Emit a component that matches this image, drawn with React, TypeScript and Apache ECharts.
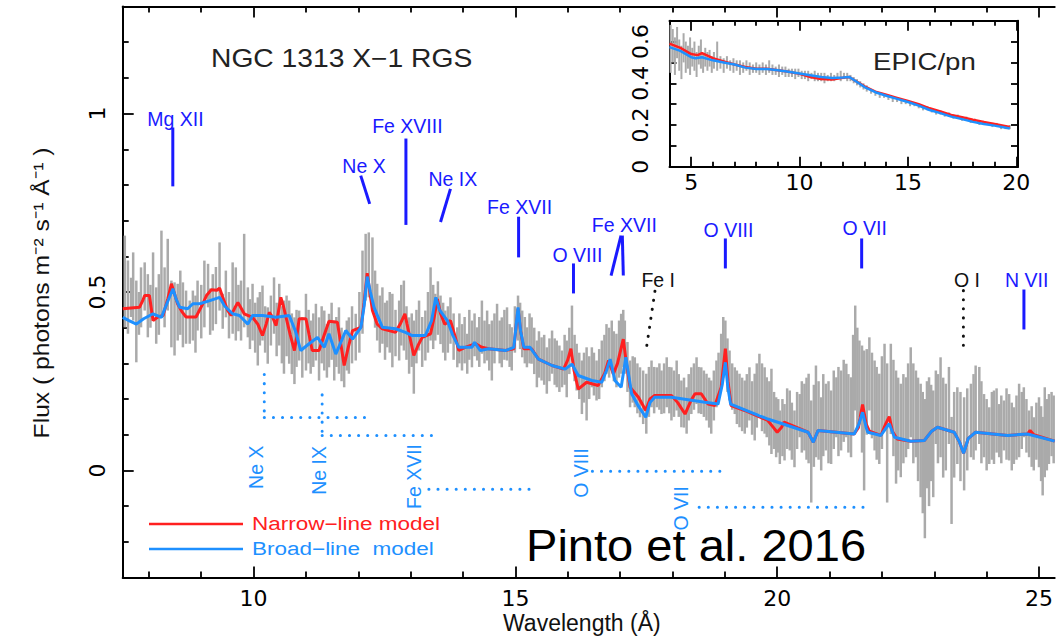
import React, { useEffect, useRef } from "react";
import * as echarts from "echarts";

// ---------- axis ticks ----------
const xMajor = [10, 15, 20, 25];
const xMinor = [8, 9, 11, 12, 13, 14, 16, 17, 18, 19, 21, 22, 23, 24];
const yMajor = [0, 0.5, 1];
const yMinor = [-0.2, -0.1, 0.1, 0.2, 0.3, 0.4, 0.6, 0.7, 0.8, 0.9, 1.1, 1.2];
const insetXMajor = [5, 10, 15, 20];
const insetXMinor = [6, 7, 8, 9, 11, 12, 13, 14, 16, 17, 18, 19];
const insetYLabels = [0, 0.2, 0.4, 0.6];
const insetYTicks = [0.1, 0.2, 0.3, 0.4, 0.5, 0.6];

// ---------- RGS spectrum: [wavelength, low, high] ----------
const rgsData = [
  [7.54,0.401,0.658],[7.6,0.383,0.588],[7.66,0.43,0.54],[7.7,0.42,0.611],[7.76,0.303,0.532],[7.81,0.38,0.5],[7.85,0.401,0.569],[7.92,0.448,0.583],[7.98,0.373,0.55],[8.03,0.4,0.52],[8.08,0.42,0.611],[8.14,0.355,0.513],[8.19,0.38,0.55],[8.24,0.429,0.672],[8.3,0.401,0.569],[8.36,0.448,0.649],[8.43,0.345,0.532],[8.49,0.322,0.527],[8.55,0.364,0.523],[8.6,0.38,0.56],[8.65,0.345,0.527],[8.71,0.355,0.504],[8.78,0.355,0.476],[8.84,0.364,0.504],[8.89,0.33,0.49],[8.93,0.392,0.532],[9.0,0.37,0.52],[9.06,0.401,0.588],[9.13,0.457,0.579],[9.17,0.38,0.51],[9.22,0.392,0.55],[9.28,0.41,0.57],[9.35,0.448,0.639],[9.41,0.397,0.495],[9.47,0.429,0.56],[9.53,0.37,0.5],[9.6,0.383,0.583],[9.66,0.364,0.569],[9.71,0.39,0.52],[9.76,0.364,0.532],[9.82,0.401,0.663],[9.89,0.373,0.513],[9.93,0.34,0.48],[9.98,0.364,0.523],
  [10.03,0.33,0.47],[10.08,0.294,0.485],[10.12,0.35,0.5],[10.17,0.364,0.518],[10.22,0.33,0.46],[10.27,0.299,0.457],[10.33,0.35,0.49],[10.39,0.383,0.541],[10.44,0.32,0.47],[10.49,0.35,0.523],[10.54,0.3,0.46],[10.58,0.271,0.476],[10.63,0.32,0.49],[10.68,0.299,0.476],[10.73,0.27,0.44],[10.78,0.242,0.429],[10.82,0.29,0.45],[10.87,0.308,0.448],[10.93,0.26,0.43],[11.0,0.28,0.495],[11.05,0.3,0.45],[11.09,0.271,0.42],[11.14,0.29,0.44],[11.19,0.308,0.467],[11.25,0.252,0.429],[11.3,0.3,0.46],[11.35,0.28,0.448],[11.4,0.26,0.41],[11.44,0.289,0.439],[11.49,0.31,0.47],[11.54,0.252,0.42],[11.58,0.29,0.43],[11.63,0.271,0.457],[11.68,0.25,0.4],[11.73,0.233,0.383],[11.78,0.28,0.42],[11.82,0.271,0.429],[11.88,0.3,0.46],[11.95,0.308,0.439],
  [12.02,0.33,0.5],[12.08,0.383,0.616],[12.14,0.476,0.663],[12.2,0.485,0.667],[12.27,0.457,0.653],[12.32,0.4,0.56],[12.36,0.364,0.523],[12.41,0.33,0.49],[12.46,0.355,0.513],[12.51,0.31,0.47],[12.55,0.345,0.476],[12.6,0.33,0.5],[12.65,0.289,0.495],[12.71,0.32,0.45],[12.78,0.308,0.476],[12.82,0.35,0.52],[12.87,0.336,0.532],[12.92,0.31,0.46],[12.97,0.271,0.429],[13.02,0.29,0.44],[13.06,0.215,0.42],[13.11,0.3,0.45],[13.16,0.336,0.476],[13.22,0.29,0.43],[13.28,0.308,0.448],[13.33,0.33,0.5],[13.38,0.364,0.569],[13.43,0.34,0.52],[13.47,0.364,0.495],[13.52,0.38,0.53],[13.57,0.354,0.49],[13.62,0.33,0.47],[13.66,0.308,0.448],[13.71,0.33,0.46],[13.76,0.355,0.485],[13.82,0.31,0.44],[13.89,0.289,0.401],[13.93,0.3,0.44],[13.98,0.28,0.41],
  [14.03,0.3,0.43],[14.08,0.271,0.383],[14.12,0.31,0.45],[14.17,0.289,0.42],[14.22,0.32,0.44],[14.27,0.308,0.401],[14.31,0.29,0.43],[14.36,0.327,0.476],[14.41,0.3,0.42],[14.46,0.308,0.448],[14.5,0.28,0.41],[14.55,0.252,0.42],[14.6,0.3,0.44],[14.65,0.336,0.467],[14.7,0.3,0.42],[14.74,0.289,0.429],[14.79,0.31,0.45],[14.84,0.308,0.457],[14.89,0.29,0.41],[14.93,0.28,0.401],[14.99,0.33,0.46],[15.05,0.364,0.49],[15.09,0.34,0.47],[15.13,0.317,0.448],[15.18,0.3,0.43],[15.22,0.289,0.401],[15.27,0.3,0.44],[15.31,0.299,0.429],[15.36,0.27,0.4],[15.41,0.233,0.364],[15.45,0.26,0.39],[15.5,0.252,0.373],[15.55,0.24,0.38],[15.6,0.215,0.345],[15.65,0.25,0.37],[15.7,0.271,0.392],[15.75,0.24,0.37],[15.79,0.233,0.364],[15.84,0.22,0.35],[15.89,0.233,0.336],[15.94,0.24,0.38],[15.98,0.205,0.364],
  [16.03,0.27,0.4],[16.08,0.327,0.462],[16.13,0.25,0.38],[16.17,0.224,0.355],[16.22,0.2,0.33],[16.27,0.158,0.308],[16.31,0.19,0.33],[16.36,0.14,0.345],[16.41,0.2,0.32],[16.46,0.233,0.345],[16.5,0.21,0.33],[16.55,0.196,0.308],[16.6,0.2,0.34],[16.65,0.233,0.364],[16.7,0.25,0.38],[16.74,0.271,0.41],[16.79,0.26,0.4],[16.84,0.289,0.42],[16.88,0.25,0.39],[16.93,0.233,0.383],[16.98,0.26,0.42],[17.02,0.271,0.439],[17.06,0.29,0.45],[17.09,0.271,0.42],[17.14,0.22,0.36],[17.19,0.177,0.308],[17.24,0.19,0.32],[17.28,0.177,0.317],[17.33,0.16,0.3],[17.38,0.149,0.289],[17.44,0.13,0.28],[17.5,0.103,0.271],[17.55,0.15,0.29],[17.6,0.177,0.308],[17.65,0.16,0.29],[17.7,0.177,0.289],[17.75,0.17,0.3],[17.79,0.158,0.28],[17.84,0.16,0.3],[17.89,0.177,0.317],[17.94,0.16,0.29],[17.98,0.14,0.289],
  [18.03,0.15,0.28],[18.08,0.168,0.308],[18.12,0.15,0.27],[18.17,0.121,0.252],[18.22,0.12,0.26],[18.27,0.103,0.233],[18.31,0.14,0.27],[18.36,0.158,0.289],[18.41,0.17,0.3],[18.46,0.186,0.317],[18.5,0.16,0.29],[18.55,0.158,0.289],[18.6,0.15,0.28],[18.65,0.14,0.271],[18.7,0.12,0.26],[18.74,0.103,0.252],[18.79,0.14,0.28],[18.84,0.177,0.308],[18.88,0.2,0.33],[18.93,0.233,0.383],[18.97,0.26,0.43],[19.01,0.271,0.42],[19.05,0.22,0.37],[19.09,0.196,0.336],[19.14,0.17,0.3],[19.19,0.158,0.289],[19.23,0.13,0.28],[19.28,0.121,0.271],[19.33,0.11,0.26],[19.38,0.103,0.252],[19.42,0.12,0.27],[19.47,0.14,0.289],[19.52,0.1,0.25],[19.57,0.084,0.271],[19.61,0.12,0.3],[19.66,0.158,0.327],[19.71,0.11,0.3],[19.76,0.103,0.289],[19.8,0.093,0.261],[19.85,0.07,0.25],[19.89,0.046,0.285],[19.94,0.06,0.22],[19.98,0.037,0.205],
  [20.02,0.05,0.2],[20.05,0.018,0.168],[20.1,0.04,0.2],[20.14,0.028,0.186],[20.19,0.06,0.23],[20.24,0.056,0.224],[20.28,0.03,0.19],[20.33,0.009,0.168],[20.38,0.06,0.22],[20.43,0.093,0.214],[20.47,0.05,0.25],[20.52,0.056,0.243],[20.56,0.03,0.26],[20.6,0.02,0.271],[20.65,-0.09,0.196],[20.7,0.01,0.24],[20.74,0.037,0.294],[20.79,0.03,0.25],[20.84,0.0,0.205],[20.88,0.04,0.27],[20.93,0.056,0.243],[20.98,0.02,0.25],
  [21.03,0.018,0.224],[21.08,0.06,0.28],[21.13,0.093,0.261],[21.17,0.04,0.29],[21.22,0.056,0.28],[21.27,0.08,0.31],[21.32,0.093,0.299],[21.36,0.05,0.27],[21.41,0.037,0.261],[21.45,0.1,0.38],[21.49,0.168,0.462],[21.53,0.12,0.4],[21.57,0.149,0.364],[21.62,0.05,0.35],[21.66,-0.056,0.336],[21.71,0.1,0.34],[21.76,0.168,0.373],[21.81,0.09,0.33],[21.86,0.056,0.308],[21.9,0.03,0.29],[21.95,0.018,0.271],
  [22.0,0.06,0.32],[22.05,0.121,0.355],[22.1,-0.09,0.3],[22.17,0.102,0.355],[22.22,0.04,0.31],[22.27,-0.037,0.28],[22.31,0.0,0.26],[22.36,-0.019,0.243],[22.41,0.02,0.27],[22.46,0.037,0.261],[22.5,0.06,0.3],[22.55,0.093,0.345],[22.6,0.02,0.3],[22.65,0.037,0.28],[22.69,-0.03,0.26],[22.74,-0.075,0.243],[22.78,-0.12,0.22],[22.82,-0.19,0.2],[22.86,-0.05,0.25],[22.9,-0.1,0.261],[22.94,-0.03,0.24],[22.98,-0.075,0.224],
  [23.03,0.074,0.28],[23.07,0.02,0.27],[23.12,0.037,0.317],[23.17,-0.02,0.26],[23.22,0.0,0.243],[23.28,0.074,0.29],[23.33,-0.15,0.15],[23.38,-0.02,0.22],[23.44,0.018,0.233],[23.5,-0.03,0.22],[23.57,-0.056,0.205],[23.63,0.0,0.23],[23.7,0.037,0.243],[23.75,0.03,0.27],[23.79,0.056,0.294],[23.86,0.074,0.29],[23.9,0.02,0.25],[23.95,0.037,0.214],
  [24.0,0.0,0.2],[24.05,0.018,0.177],[24.1,0.03,0.22],[24.14,0.018,0.224],[24.19,0.05,0.23],[24.24,0.037,0.186],[24.28,0.02,0.21],[24.33,0.056,0.196],[24.38,0.03,0.23],[24.43,0.028,0.214],[24.48,0.0,0.19],[24.52,0.018,0.177],[24.57,0.03,0.21],[24.62,0.037,0.243],[24.67,0.06,0.22],[24.71,0.093,0.233],[24.76,0.05,0.2],[24.81,0.037,0.168],[24.86,0.01,0.18],[24.9,0.0,0.149],[24.95,0.03,0.19],
  [25.0,0.009,0.205],[25.04,-0.03,0.18],[25.07,-0.07,0.15],[25.11,-0.019,0.233],[25.15,0.0,0.2],[25.19,0.018,0.214],[25.24,0.04,0.22],[25.28,0.02,0.21],
];

// ---------- RGS models: [wavelength, flux] ----------
const narrowModel = [
  [7.5,0.453],[7.82,0.457],[7.88,0.475],[7.92,0.49],[8.01,0.49],[8.06,0.44],[8.08,0.42],[8.17,0.43],[8.27,0.434],[8.36,0.48],[8.43,0.523],[8.5,0.49],[8.55,0.466],[8.63,0.445],[8.71,0.43],[8.9,0.43],[9.03,0.467],[9.1,0.49],[9.19,0.506],[9.3,0.505],[9.35,0.511],[9.41,0.485],[9.5,0.45],[9.57,0.434],[9.64,0.455],[9.7,0.471],[9.76,0.455],[9.82,0.439],[9.98,0.429],
  [10.08,0.41],[10.17,0.378],[10.24,0.41],[10.3,0.443],[10.36,0.43],[10.43,0.406],[10.48,0.45],[10.52,0.485],[10.57,0.46],[10.62,0.429],[10.7,0.38],[10.78,0.336],[10.83,0.38],[10.87,0.425],[11.0,0.425],[11.06,0.38],[11.12,0.336],[11.25,0.336],[11.35,0.38],[11.44,0.418],[11.6,0.415],[11.66,0.36],[11.73,0.294],[11.8,0.34],[11.89,0.392],
  [12.05,0.401],[12.11,0.47],[12.17,0.553],[12.22,0.5],[12.27,0.448],[12.36,0.41],[12.46,0.397],[12.71,0.387],[12.8,0.41],[12.89,0.439],[12.93,0.41],[12.97,0.383],[13.06,0.322],[13.14,0.35],[13.22,0.373],[13.38,0.383],[13.45,0.43],[13.51,0.48],[13.57,0.44],[13.65,0.41],[13.76,0.42],[13.84,0.38],[13.92,0.336],
  [14.04,0.345],[14.24,0.355],[14.36,0.345],[14.49,0.341],[14.81,0.336],[14.97,0.341],[15.01,0.4],[15.05,0.453],[15.1,0.39],[15.16,0.341],[15.31,0.341],[15.44,0.312],[15.7,0.294],[15.92,0.284],[16.0,0.31],[16.06,0.341],[16.12,0.28],[16.2,0.228],[16.36,0.247],[16.58,0.238],[16.7,0.27],[16.78,0.308],[16.87,0.27],[16.95,0.3],[17.06,0.368],[17.12,0.3],[17.19,0.233],[17.35,0.205],[17.49,0.168],[17.57,0.2],[17.66,0.21],[17.98,0.21],
  [18.1,0.19],[18.24,0.158],[18.35,0.195],[18.43,0.215],[18.55,0.215],[18.68,0.186],[18.81,0.182],[18.93,0.233],[19.01,0.341],[19.06,0.25],[19.12,0.182],[19.38,0.168],[19.82,0.14],[19.93,0.12],[20.0,0.107],[20.08,0.12],[20.13,0.135],[20.59,0.107],[20.69,0.079],[20.78,0.112],
  [21.47,0.102],[21.55,0.12],[21.63,0.185],[21.7,0.13],[21.76,0.11],[21.98,0.098],[22.07,0.13],[22.14,0.151],[22.2,0.11],[22.29,0.088],[22.55,0.082],[22.81,0.084],[22.95,0.11],[23.06,0.121],[23.38,0.107],[23.48,0.08],[23.56,0.048],[23.65,0.09],[23.79,0.107],[24.4,0.098],[24.78,0.102],[24.83,0.112],[24.9,0.1],[25.3,0.082],
];

const broadModel = [
  [7.5,0.429],[7.62,0.42],[7.76,0.41],[7.9,0.425],[8.08,0.439],[8.24,0.429],[8.35,0.47],[8.46,0.509],[8.52,0.48],[8.59,0.457],[8.74,0.453],[8.84,0.467],[8.97,0.467],[9.15,0.475],[9.35,0.485],[9.45,0.46],[9.6,0.439],[9.73,0.434],[9.89,0.41],[9.98,0.434],
  [10.17,0.434],[10.43,0.429],[10.68,0.434],[10.8,0.39],[10.9,0.336],[11.06,0.355],[11.22,0.373],[11.35,0.345],[11.44,0.383],[11.57,0.326],[11.76,0.392],[11.89,0.368],[12.05,0.401],[12.11,0.46],[12.17,0.543],[12.23,0.5],[12.3,0.457],[12.46,0.401],[12.71,0.397],[12.9,0.387],[13.03,0.378],[13.28,0.378],[13.4,0.42],[13.48,0.485],[13.55,0.45],[13.7,0.42],[13.8,0.38],[13.92,0.345],
  [14.17,0.345],[14.22,0.359],[14.33,0.336],[14.49,0.341],[14.81,0.336],[14.97,0.345],[15.01,0.4],[15.05,0.457],[15.1,0.39],[15.16,0.345],[15.28,0.345],[15.44,0.312],[15.7,0.294],[15.95,0.284],[16.08,0.298],[16.2,0.266],[16.46,0.252],[16.65,0.247],[16.74,0.28],[16.81,0.312],[16.9,0.252],[17.02,0.233],[17.11,0.317],[17.22,0.215],[17.35,0.18],[17.49,0.149],[17.57,0.19],[17.66,0.205],[17.98,0.205],
  [18.62,0.191],[18.87,0.186],[18.95,0.24],[19.01,0.303],[19.06,0.23],[19.11,0.186],[19.82,0.144],[20.01,0.135],[20.59,0.107],[20.69,0.079],[20.78,0.112],[21.47,0.102],[21.56,0.13],[21.63,0.163],[21.7,0.12],[21.73,0.107],[21.98,0.098],[22.14,0.131],[22.24,0.093],[22.55,0.082],[22.81,0.084],[22.95,0.11],[23.06,0.121],[23.38,0.107],[23.48,0.08],[23.56,0.048],[23.65,0.09],[23.79,0.107],[24.4,0.098],[24.78,0.102],[25.3,0.082],
];

// ---------- EPIC/pn inset ----------
const epicData = [
  [4.05,0.45,0.68],[4.15,0.5,0.66],[4.25,0.44,0.62],[4.35,0.52,0.67],[4.45,0.46,0.61],[4.55,0.42,0.58],[4.65,0.5,0.64],[4.75,0.45,0.6],[4.85,0.47,0.58],[4.95,0.44,0.62],[5.05,0.48,0.57],[5.15,0.46,0.6],[5.25,0.43,0.55],[5.35,0.49,0.58],[5.45,0.47,0.61],[5.55,0.45,0.54],[5.65,0.48,0.57],[5.75,0.46,0.55],[5.85,0.48,0.56],[5.95,0.45,0.53],
  [6.05,0.47,0.55],[6.2,0.46,0.6],[6.35,0.47,0.53],[6.5,0.45,0.52],[6.65,0.47,0.53],[6.8,0.46,0.51],[6.95,0.45,0.52],[7.1,0.46,0.51],[7.25,0.44,0.51],[7.4,0.45,0.5],[7.55,0.46,0.51],[7.7,0.44,0.5],[7.85,0.45,0.49],[8.0,0.45,0.5],[8.15,0.44,0.49],[8.3,0.45,0.5],[8.45,0.44,0.49],[8.6,0.45,0.51],[8.75,0.44,0.49],[8.9,0.44,0.48],
  [9.05,0.43,0.49],[9.2,0.44,0.48],[9.35,0.43,0.48],[9.5,0.43,0.47],[9.65,0.43,0.47],[9.8,0.42,0.47],[9.95,0.43,0.47],[10.1,0.42,0.46],[10.25,0.42,0.46],[10.4,0.41,0.46],[10.55,0.42,0.45],[10.7,0.41,0.46],[10.85,0.41,0.45],[11.0,0.41,0.45],[11.15,0.4,0.45],[11.3,0.41,0.44],[11.45,0.41,0.45],[11.6,0.41,0.44],[11.75,0.42,0.45],[11.9,0.41,0.46],
  [12.05,0.42,0.45],[12.2,0.41,0.45],[12.35,0.41,0.44],[12.5,0.4,0.43],[12.65,0.39,0.42],[12.8,0.38,0.41],[12.95,0.37,0.4],[13.1,0.36,0.39],[13.3,0.35,0.37],[13.5,0.34,0.36],[13.7,0.33,0.35],[13.9,0.33,0.35],[14.1,0.32,0.34],[14.3,0.31,0.33],[14.5,0.31,0.33],[14.7,0.3,0.32],[14.9,0.3,0.32],[15.1,0.29,0.31],[15.3,0.29,0.31],[15.5,0.28,0.3],
  [15.7,0.27,0.29],[15.9,0.27,0.29],[16.1,0.26,0.28],[16.3,0.25,0.27],[16.5,0.25,0.27],[16.7,0.24,0.26],[16.9,0.24,0.26],[17.1,0.23,0.25],[17.3,0.23,0.25],[17.5,0.22,0.24],[17.7,0.22,0.24],[17.9,0.21,0.23],[18.1,0.21,0.23],[18.3,0.2,0.22],[18.5,0.2,0.22],[18.7,0.2,0.21],[18.9,0.19,0.21],[19.1,0.19,0.21],[19.3,0.18,0.2],[19.5,0.18,0.2],[19.7,0.18,0.2],
];
const epicNarrow = [
  [4.0,0.59],[4.5,0.57],[5.0,0.54],[5.3,0.535],[5.5,0.545],[5.8,0.53],[6.0,0.52],[6.5,0.505],[7.0,0.49],[7.5,0.478],[8.0,0.47],[8.5,0.47],[9.0,0.462],[9.5,0.455],[10.0,0.445],[10.5,0.43],[11.0,0.42],[11.5,0.418],[12.0,0.426],[12.3,0.43],[12.6,0.41],[13.0,0.385],[13.5,0.36],[14.0,0.345],[14.5,0.33],[15.0,0.315],[15.5,0.3],[16.0,0.28],[16.5,0.265],[17.0,0.248],[17.5,0.237],[18.0,0.225],[18.5,0.214],[19.0,0.205],[19.7,0.19],
];
const epicBroad = [
  [4.0,0.573],[4.5,0.555],[5.0,0.525],[5.2,0.52],[5.5,0.525],[6.0,0.51],[6.5,0.5],[7.0,0.49],[7.5,0.475],[8.0,0.468],[8.5,0.468],[9.0,0.462],[9.5,0.455],[10.0,0.447],[10.5,0.438],[11.0,0.43],[11.5,0.425],[12.0,0.428],[12.3,0.43],[12.6,0.41],[13.0,0.382],[13.5,0.357],[14.0,0.34],[14.5,0.325],[15.0,0.31],[15.5,0.293],[16.0,0.272],[16.5,0.257],[17.0,0.24],[17.5,0.228],[18.0,0.215],[18.5,0.205],[19.0,0.197],[19.7,0.183],
];

// ---------- line identifications (data coordinates) ----------
// [x1, y1, x2, y2, kind]  kind 0 = blue tick, 1 = black dotted, 2 = light-blue dotted
const markSegments = [
  [8.457,0.961,8.457,0.796,0],[12.046,0.826,12.217,0.747,0],[12.909,0.93,12.909,0.688,0],[13.76,0.789,13.57,0.696,0],
  [15.061,0.711,15.061,0.597,0],[16.109,0.58,16.109,0.496,0],[17.017,0.658,16.827,0.546,0],[17.042,0.658,17.061,0.546,0],
  [17.665,0.502,17.505,0.345,1],[19.01,0.65,19.01,0.566,0],[21.613,0.65,21.613,0.566,0],[23.556,0.504,23.556,0.345,1],
  [24.712,0.507,24.712,0.395,0],
  [10.204,0.269,10.204,0.148,2],[10.204,0.148,12.166,0.148,2],[11.309,0.212,11.309,0.098,2],[11.309,0.098,13.499,0.098,2],
  [13.347,-0.053,15.347,-0.053,2],[16.47,-0.002,18.946,-0.002,2],[18.509,-0.103,21.651,-0.103,2],
];
const ionNames = ["Mg XII","Ne X","Fe XVIII","Ne IX","Fe XVII","O VIII","Fe XVII","Fe I","O VIII","O VII","O I","N VII","Ne X","Ne IX","Fe XVII","O VIII","O VII"];
// [x, y, kind]
const ionLabelPos = [
  [8.509,0.986,0],[12.109,0.854,0],[12.937,0.964,0],[13.804,0.818,0],[15.08,0.737,0],[16.185,0.605,0],[17.08,0.689,0],
  [17.728,0.535,1],[19.07,0.675,0],[21.67,0.678,0],[23.623,0.535,1],[24.766,0.535,0],
  [10.051,0.009,2],[11.251,0.0,2],[13.061,-0.017,2],[16.261,-0.007,2],[18.156,-0.106,2],
];

const RED = "#ff2020";
const BLUE = "#1e90ff";
const DARKBLUE = "#1a1aff";
const GRAY = "#aaaaaa";
const AXF = "DejaVu Sans";
const TF = "Liberation Sans";
const kindColor = [DARKBLUE, "#111111", BLUE];

const errorBars = (w: number) => (params: any, api: any) => {
  const x = api.value(0);
  const a = api.coord([x, api.value(1)]);
  const b = api.coord([x, api.value(2)]);
  return { type: "rect", shape: { x: a[0] - w / 2, y: b[1], width: w, height: a[1] - b[1] }, style: { fill: GRAY } };
};

const ax = (o: any) => ({ type: "value", splitLine: { show: false }, ...o });
const line2 = { color: "#000", width: 2 };

function buildOption(): any {
  const xMain = { gridIndex: 0, min: 7.5, max: 25.3 };
  const yMain = { gridIndex: 0, min: -0.3, max: 1.3 };
  const xIn = { gridIndex: 1, min: 4, max: 20.08 };
  const yIn = { gridIndex: 1, min: 0, max: 0.7 };
  const noLine = { show: false, onZero: false };
  const withLine = { show: true, onZero: false, lineStyle: line2 };
  const tick = (vals: number[], len: number, w = 1.8) => ({ show: true, inside: true, length: len, customValues: vals, lineStyle: { color: "#000", width: w } });
  const lbl = (vals: number[], extra: any = {}) => ({ show: true, customValues: vals, fontSize: 22, fontFamily: AXF, color: "#000", ...extra });

  return {
    animation: false,
    backgroundColor: "#fff",
    grid: [
      { left: 122.7, top: 6.5, width: 934.5, height: 571 },
      { left: 669.5, top: 20.7, width: 348.5, height: 146 },
    ],
    xAxis: [
      ax({ ...xMain, position: "bottom", axisLine: withLine, axisTick: tick(xMajor, 11), axisLabel: lbl(xMajor, { margin: 10 }) }),
      ax({ ...xMain, position: "bottom", axisLine: noLine, axisTick: tick(xMinor, 6), axisLabel: { show: false } }),
      ax({ ...xMain, position: "top", axisLine: withLine, axisTick: tick(xMajor, 11), axisLabel: { show: false } }),
      ax({ ...xMain, position: "top", axisLine: noLine, axisTick: tick(xMinor, 6), axisLabel: { show: false } }),
      ax({ ...xIn, position: "bottom", axisLine: withLine, axisTick: tick(insetXMajor, 10), axisLabel: lbl(insetXMajor, { margin: 5 }) }),
      ax({ ...xIn, position: "bottom", axisLine: noLine, axisTick: tick(insetXMinor, 5), axisLabel: { show: false } }),
      ax({ ...xIn, position: "top", axisLine: withLine, axisTick: tick(insetXMajor, 10), axisLabel: { show: false } }),
      ax({ ...xIn, position: "top", axisLine: noLine, axisTick: tick(insetXMinor, 5), axisLabel: { show: false } }),
    ],
    yAxis: [
      ax({ ...yMain, position: "left", axisLine: withLine, axisTick: tick(yMajor, 11), axisLabel: lbl(yMajor, { rotate: 90, margin: 14 }) }),
      ax({ ...yMain, position: "left", axisLine: noLine, axisTick: tick(yMinor, 6), axisLabel: { show: false } }),
      ax({ ...yIn, position: "left", axisLine: withLine, axisTick: tick(insetYTicks, 7), axisLabel: lbl(insetYLabels, { rotate: 90, margin: 18 }) }),
      ax({ ...yIn, position: "right", axisLine: withLine, axisTick: tick(insetYTicks, 7), axisLabel: { show: false } }),
    ],
    series: [
      { type: "custom", xAxisIndex: 0, yAxisIndex: 0, data: rgsData, encode: { x: 0, y: [1, 2] }, renderItem: errorBars(2.5), z: 1, silent: true },
      { type: "line", xAxisIndex: 0, yAxisIndex: 0, data: narrowModel, showSymbol: false, lineStyle: { color: RED, width: 3 }, z: 2, silent: true },
      { type: "line", xAxisIndex: 0, yAxisIndex: 0, data: broadModel, showSymbol: false, lineStyle: { color: BLUE, width: 3 }, z: 3, silent: true },
      { type: "custom", xAxisIndex: 4, yAxisIndex: 2, data: epicData, encode: { x: 0, y: [1, 2] }, renderItem: errorBars(2), z: 1, silent: true },
      { type: "line", xAxisIndex: 4, yAxisIndex: 2, data: epicNarrow, showSymbol: false, lineStyle: { color: RED, width: 2.5 }, z: 2, silent: true },
      { type: "line", xAxisIndex: 4, yAxisIndex: 2, data: epicBroad, showSymbol: false, lineStyle: { color: BLUE, width: 2.5 }, z: 3, silent: true },
      {
        type: "custom", xAxisIndex: 0, yAxisIndex: 0, data: markSegments, z: 5, silent: true,
        renderItem: (params: any, api: any) => {
          const a = api.coord([api.value(0), api.value(1)]);
          const b = api.coord([api.value(2), api.value(3)]);
          const k = api.value(4);
          const style = k === 0
            ? { stroke: DARKBLUE, lineWidth: 3 }
            : { stroke: kindColor[k], lineWidth: 3, lineDash: [0.1, 9], lineCap: "round" };
          return { type: "line", shape: { x1: a[0], y1: a[1], x2: b[0], y2: b[1] }, style };
        },
      },
      {
        type: "custom", xAxisIndex: 0, yAxisIndex: 0, data: ionLabelPos, z: 6, silent: true,
        renderItem: (params: any, api: any) => {
          const p = api.coord([api.value(0), api.value(1)]);
          const k = api.value(2);
          return {
            type: "text", x: p[0], y: p[1], rotation: k === 2 ? Math.PI / 2 : 0,
            style: { text: ionNames[params.dataIndex], fill: kindColor[k], fontSize: 19.5, fontFamily: TF, align: "center", verticalAlign: "middle", textAlign: "center", textVerticalAlign: "middle" },
          };
        },
      },
    ],
    graphic: [
      { type: "text", x: 211, y: 59, scaleX: 1.13, style: { text: "NGC 1313 X\u22121 RGS", fill: "#222", fontSize: 25, fontFamily: TF, align: "left", verticalAlign: "middle", textAlign: "left", textVerticalAlign: "middle" } },
      { type: "text", x: 873, y: 61.5, scaleX: 1.2, style: { text: "EPIC/pn", fill: "#222", fontSize: 23, fontFamily: TF, align: "left", verticalAlign: "middle", textAlign: "left", textVerticalAlign: "middle" } },
      { type: "text", x: 526, y: 546, scaleX: 1.07, style: { text: "Pinto et al. 2016", fill: "#000", fontSize: 44, fontFamily: TF, align: "left", verticalAlign: "middle", textAlign: "left", textVerticalAlign: "middle" } },
      { type: "line", shape: { x1: 149, y1: 524, x2: 243, y2: 524 }, style: { stroke: RED, lineWidth: 2.5 } },
      { type: "line", shape: { x1: 149, y1: 549, x2: 243, y2: 549 }, style: { stroke: BLUE, lineWidth: 2.5 } },
      { type: "text", x: 252, y: 524, scaleX: 1.25, style: { text: "Narrow\u2212line model", fill: RED, fontSize: 18, fontFamily: TF, align: "left", verticalAlign: "middle", textAlign: "left", textVerticalAlign: "middle" } },
      { type: "text", x: 252, y: 549, scaleX: 1.25, style: { text: "Broad\u2212line  model", fill: BLUE, fontSize: 18, fontFamily: TF, align: "left", verticalAlign: "middle", textAlign: "left", textVerticalAlign: "middle" } },
      { type: "text", x: 503, y: 623, scaleX: 1.0, style: { text: "Wavelength (\u00c5)", fill: "#111", fontSize: 23, fontFamily: TF, align: "left", verticalAlign: "middle", textAlign: "left", textVerticalAlign: "middle" } },
      { type: "text", x: 41, y: 293, rotation: Math.PI / 2, scaleX: 1.12, style: { text: "Flux ( photons m\u207b\u00b2 s\u207b\u00b9 \u00c5\u207b\u00b9 )", fill: "#111", fontSize: 22, fontFamily: TF, align: "center", verticalAlign: "middle", textAlign: "center", textVerticalAlign: "middle" } },
    ],
  };
}

export default function App() {
  const ref = useRef<HTMLDivElement>(null);
  useEffect(() => {
    if (!ref.current) return;
    const chart = echarts.init(ref.current, null, { renderer: "svg" });
    chart.setOption(buildOption());
    return () => chart.dispose();
  }, []);
  return <div ref={ref} style={{ position: "absolute", left: 0, top: 0, width: 1056, height: 642, background: "#fff" }} />;
}
